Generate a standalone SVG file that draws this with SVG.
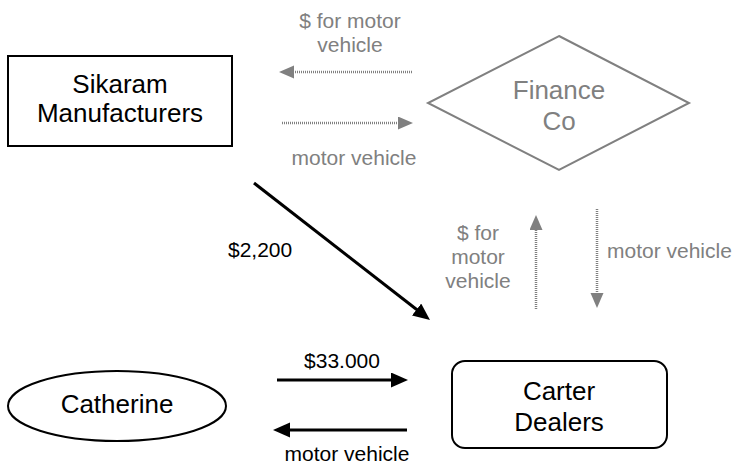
<svg xmlns="http://www.w3.org/2000/svg" width="733" height="467" viewBox="0 0 733 467">
<style>
text{font-family:"Liberation Sans",Arial,sans-serif;}
.big{font-size:26px;fill:#000;text-anchor:middle;}
.gbig{font-size:26px;fill:#808080;text-anchor:middle;}
.lbl{font-size:21px;fill:#000;}
.glbl{font-size:21px;fill:#808080;}
.shape{fill:#fff;stroke:#000;stroke-width:2;}
.blk{stroke:#000;stroke-width:3;fill:none;}
.gry{stroke:#808080;stroke-width:2.5;stroke-dasharray:1 1;fill:none;}
</style>
<defs>
<marker id="ab" markerUnits="userSpaceOnUse" markerWidth="18" markerHeight="16" refX="7" refY="7.5" orient="auto"><path d="M0,0 L17,7.5 L0,15 z" fill="#000"/></marker>
<marker id="ag" markerUnits="userSpaceOnUse" markerWidth="16" markerHeight="14" refX="6" refY="6.5" orient="auto"><path d="M0,0 L15,6.5 L0,13 z" fill="#808080"/></marker>
</defs>
<g id="sikaram">
<rect class="shape" x="8" y="56" width="224" height="90"/>
<text class="big" x="120" y="93">Sikaram</text>
<text class="big" x="120" y="122">Manufacturers</text>
</g>
<g id="finance">
<polygon points="559,36 689,103 559,170 428,103" fill="#fff" stroke="#808080" stroke-width="2"/>
<text class="gbig" x="559" y="99">Finance</text>
<text class="gbig" x="559" y="130">Co</text>
</g>
<g id="catherine">
<ellipse class="shape" cx="117" cy="406" rx="109" ry="35"/>
<text class="big" x="117" y="413">Catherine</text>
</g>
<g id="carter">
<rect class="shape" x="452" y="361" width="215" height="87" rx="13"/>
<text class="big" x="559" y="400">Carter</text>
<text class="big" x="559" y="431">Dealers</text>
</g>
<g id="connectors">
<line class="gry" x1="412" y1="72" x2="288" y2="72" marker-end="url(#ag)"/>
<line class="gry" x1="282" y1="123" x2="404" y2="123" marker-end="url(#ag)"/>
<line class="gry" x1="536" y1="309" x2="536" y2="224" marker-end="url(#ag)"/>
<line class="gry" x1="597" y1="209" x2="597" y2="299" marker-end="url(#ag)"/>
<line class="blk" x1="254" y1="183" x2="422.1" y2="313.8" marker-end="url(#ab)"/>
<line class="blk" x1="277" y1="380" x2="398" y2="380" marker-end="url(#ab)"/>
<line class="blk" x1="407" y1="430" x2="283" y2="430" marker-end="url(#ab)"/>
<text class="glbl" x="350" y="28" text-anchor="middle">$ for motor</text>
<text class="glbl" x="350" y="52" text-anchor="middle">vehicle</text>
<text class="glbl" x="354" y="165" text-anchor="middle">motor vehicle</text>
<text class="glbl" x="478" y="240" text-anchor="middle">$ for</text>
<text class="glbl" x="478" y="264" text-anchor="middle">motor</text>
<text class="glbl" x="478" y="288" text-anchor="middle">vehicle</text>
<text class="glbl" x="607" y="258">motor vehicle</text>
<text class="lbl" x="228" y="257">$2,200</text>
<text class="lbl" x="342" y="368" text-anchor="middle">$33.000</text>
<text class="lbl" x="347" y="461" text-anchor="middle">motor vehicle</text>
</g>
</svg>
